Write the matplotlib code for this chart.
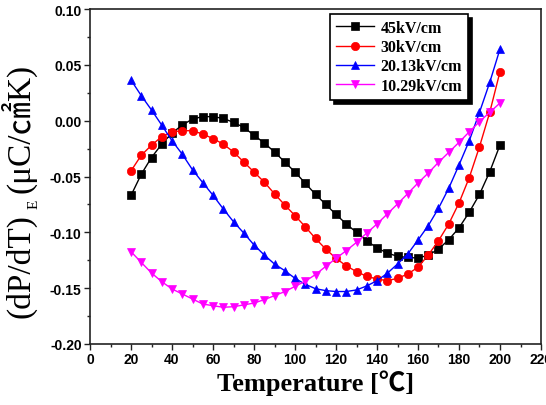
import matplotlib
matplotlib.use("Agg")
import matplotlib.pyplot as plt
from matplotlib.transforms import IdentityTransform

plt.rcParams['axes.unicode_minus'] = False

temps = [20, 25, 30, 35, 40, 45, 50, 55, 60, 65, 70, 75, 80, 85, 90, 95, 100,
         105, 110, 115, 120, 125, 130, 135, 140, 145, 150, 155, 160, 165, 170,
         175, 180, 185, 190, 195, 200]

e45 = [-0.067, -0.048, -0.033, -0.021, -0.011, -0.004, 0.0015, 0.0036, 0.0036,
       0.002, -0.0015, -0.006, -0.013, -0.020, -0.028, -0.037, -0.046, -0.056,
       -0.066, -0.075, -0.084, -0.0925, -0.100, -0.1075, -0.114, -0.1185,
       -0.1215, -0.1225, -0.123, -0.1205, -0.115, -0.1066, -0.096, -0.082,
       -0.066, -0.0457, -0.0218]

e30 = [-0.045, -0.031, -0.022, -0.0143, -0.010, -0.009, -0.009, -0.012, -0.016,
       -0.021, -0.028, -0.037, -0.046, -0.055, -0.0655, -0.0755, -0.085,
       -0.095, -0.1055, -0.115, -0.1233, -0.130, -0.1352, -0.1394, -0.1418,
       -0.1433, -0.1412, -0.1373, -0.1313, -0.1203, -0.1075, -0.0925, -0.0737,
       -0.051, -0.0233, 0.0075, 0.0439]

e20 = [0.0364, 0.0224, 0.0096, -0.004, -0.018, -0.030, -0.044, -0.0555,
       -0.0668, -0.079, -0.0905, -0.1006, -0.1113, -0.1203, -0.1284, -0.1343,
       -0.1412, -0.1465, -0.1505, -0.1522, -0.153, -0.153, -0.1516, -0.148,
       -0.1433, -0.1367, -0.1284, -0.1194, -0.1069, -0.094, -0.0785, -0.0605,
       -0.0397, -0.018, 0.0075, 0.0343, 0.0642]

e10 = [-0.1173, -0.1269, -0.1364, -0.1442, -0.1507, -0.1552, -0.1597, -0.1642,
       -0.1657, -0.1671, -0.1666, -0.165, -0.1633, -0.1603, -0.1567, -0.1531,
       -0.1484, -0.1438, -0.1378, -0.1305, -0.1233, -0.1164, -0.109, -0.1006,
       -0.0925, -0.0836, -0.0746, -0.0653, -0.0558, -0.0469, -0.0373, -0.0284,
       -0.0194, -0.010, -0.0009, 0.0075, 0.0158]

labels = ["45kV/cm", "30kV/cm", "20.13kV/cm", "10.29kV/cm"]
colors = ["black", "red", "blue", "magenta"]
markers = ["s", "o", "^", "v"]
series = [e45, e30, e20, e10]

xticks = [0, 20, 40, 60, 80, 100, 120, 140, 160, 180, 200, 220]
yticks = [-0.20, -0.15, -0.10, -0.05, 0.00, 0.05, 0.10]

W, H = 546, 406
fig = plt.figure(figsize=(W / 100, H / 100), dpi=100)
ax = fig.add_axes([90 / W, 1 - 345 / H, 451 / W, 335 / H])

msizes = [5.4, 6.0, 6.4, 6.4]
for ys, lab, c, m, ms in zip(series, labels, colors, markers, msizes):
    ax.plot(temps, ys, color=c, marker=m, markersize=ms, linewidth=1.0,
            markeredgewidth=0.5, markeredgecolor=c, label=lab)

ax.set_xlim(0, 220)
ax.set_ylim(-0.20, 0.10)
ax.set_xticks(xticks)
ax.set_xticklabels([str(v) for v in xticks])
ax.set_xticks(list(range(10, 220, 20)), minor=True)
ax.set_yticks(yticks)
ax.set_yticklabels(["%.2f" % v for v in yticks])
ax.set_yticks([-0.175, -0.125, -0.075, -0.025, 0.025, 0.075], minor=True)

for s in ax.spines.values():
    s.set_linewidth(1.2)
    s.set_color("#222222")
ax.tick_params(which="major", direction="out", length=4, width=1.0,
               colors="#222222", labelsize=10, pad=2)
ax.tick_params(which="minor", direction="out", length=2.5, width=1.0,
               colors="#222222")
for lbl in ax.get_xticklabels() + ax.get_yticklabels():
    lbl.set_fontweight("bold")
    lbl.set_family(["Liberation Sans", "DejaVu Sans"])
    lbl.set_color("black")

ax.set_xlabel("Temperature [℃]", fontsize=19, fontweight="bold",
              family=["Liberation Serif", "Noto Sans CJK SC"], labelpad=2)

leg = ax.legend(loc="upper right", bbox_to_anchor=((468 - 90) / 451, (345 - 15) / 335),
                borderaxespad=0, fancybox=False, frameon=True,
                shadow={"ox": 3, "oy": -3, "color": "black", "alpha": 1.0},
                prop={"family": "Liberation Serif", "weight": "bold", "size": 11.5},
                labelspacing=0.2, handlelength=2.4, handletextpad=0.4,
                borderpad=0.38)
leg.get_frame().set_edgecolor("black")
leg.get_frame().set_linewidth(1.2)

# y label built from pieces (subscript E), placed by their bounding boxes
fig.canvas.draw()
renderer = fig.canvas.get_renderer()
fam = ["Liberation Serif", "Noto Sans CJK SC"]
tr = IdentityTransform()

def put(txt, fs, xright, ybottom):
    t = fig.text(xright, ybottom, txt, rotation=90, ha="right", va="bottom",
                 fontsize=fs, family=fam, transform=tr)
    return t.get_window_extent(renderer)

bb1 = put("(dP/dT)", 24, 37, H - 318)
bbE = put("E", 11, 41, bb1.y1 + 5)
bb3 = put("(μC/㎠K)", 24, 37, bbE.y1 + 7)

fig.savefig("out.png", dpi=100)
